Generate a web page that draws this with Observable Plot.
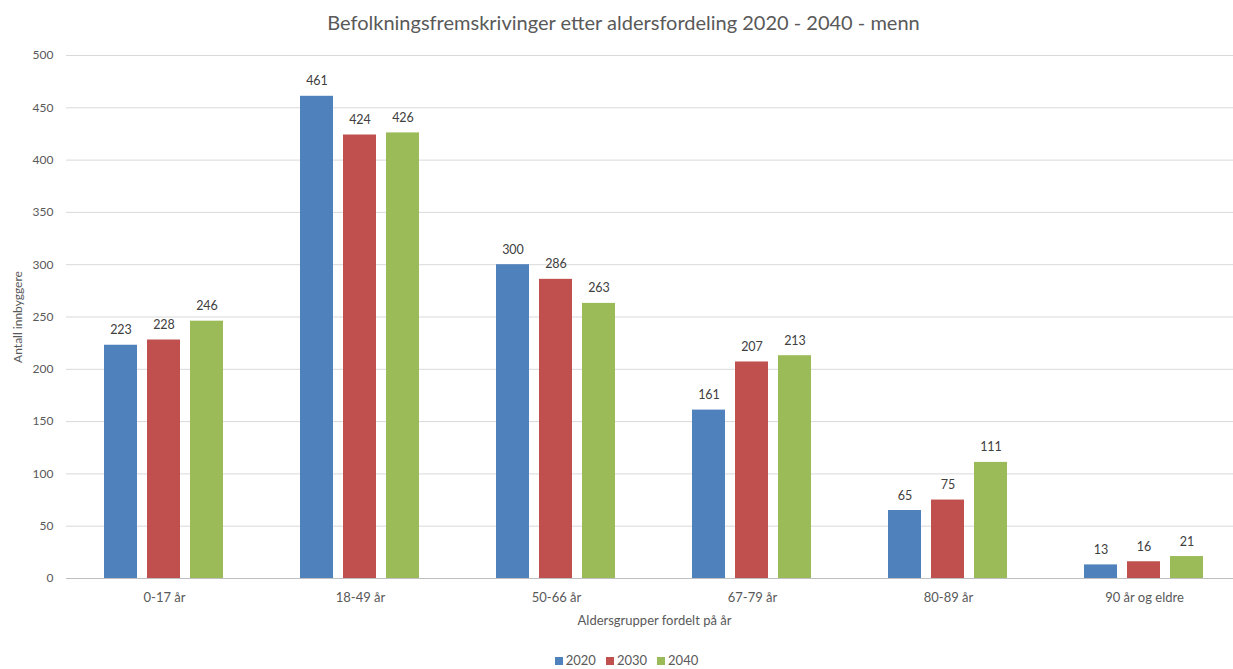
<!DOCTYPE html>
<html><head><meta charset="utf-8">
<script src="https://cdn.jsdelivr.net/npm/d3@7"></script>
<script src="https://cdn.jsdelivr.net/npm/@observablehq/plot@0.6"></script>
<style>
html,body{margin:0;background:#fff;overflow:hidden;font-family:Lato,"Open Sans",sans-serif;}
#title{height:40px;line-height:44px;text-align:center;font-size:20px;font-weight:400;color:#595959;padding-left:14px;}
#legend{display:flex;justify-content:center;gap:10px;font-size:13px;color:#595959;margin-top:12px;padding-left:20px;}
#legend span.sw{display:inline-block;width:8px;height:8px;margin-right:3px;}
</style></head><body>
<div id="title">Befolkningsfremskrivinger etter aldersfordeling 2020 - 2040 - menn</div>
<div id="chart"></div>
<div id="legend"></div>
<script>
const categories = ["0-17 år","18-49 år","50-66 år","67-79 år","80-89 år","90 år og eldre"];
const years = ["2020","2030","2040"];
const v2020 = [223,461,300,161,65,13];
const v2030 = [228,424,286,207,75,16];
const v2040 = [246,426,263,213,111,21];
const colors = ["#4f81bd","#c0504d","#9bbb59"];
const yTicks = [0,50,100,150,200,250,300,350,400,450,500];

const series = [v2020, v2030, v2040];
const data = categories.flatMap((c,i) => years.map((y,j) => ({cat:c, year:y, value:series[j][i]})));

const chart = Plot.plot({
  width:1233, height:600,
  marginTop:15, marginBottom:62, marginLeft:65, marginRight:-10,
  style:{fontFamily:"Lato, 'Open Sans', sans-serif", fontSize:"12px", color:"#595959", background:"#fff"},
  fx:{domain:categories, paddingInner:0, paddingOuter:0},
  x:{domain:years, paddingInner:0.2273, paddingOuter:0.841, axis:null},
  y:{domain:[0,500]},
  color:{domain:years, range:colors},
  marks:[
    Plot.ruleY(yTicks.filter(t=>t>0), {stroke:"#d9d9d9"}),
    Plot.barY(data, {fx:"cat", x:"year", y:"value", fill:"year"}),
    Plot.ruleY([0], {stroke:"#bfbfbf"}),
    Plot.text(data, {fx:"cat", x:"year", y:"value", text:d=>String(d.value), dy:-15, fill:"#404040", fontSize:12.5}),
    Plot.axisY({ticks:yTicks, tickSize:0, tickPadding:13, label:"Antall innbyggere", labelAnchor:"center", labelArrow:"none", labelOffset:53, fontSize:12}),
    Plot.axisFx({anchor:"bottom", tickSize:0, tickPadding:14, label:"Aldersgrupper fordelt på år", labelAnchor:"center", labelArrow:"none", labelOffset:46, fontSize:13})
  ]
});
document.getElementById("chart").appendChild(chart);

const legend = document.getElementById("legend");
years.forEach((y,i) => {
  const item = document.createElement("span");
  item.innerHTML = `<span class="sw" style="background:${colors[i]}"></span>${y}`;
  legend.appendChild(item);
});
</script>
</body></html>
